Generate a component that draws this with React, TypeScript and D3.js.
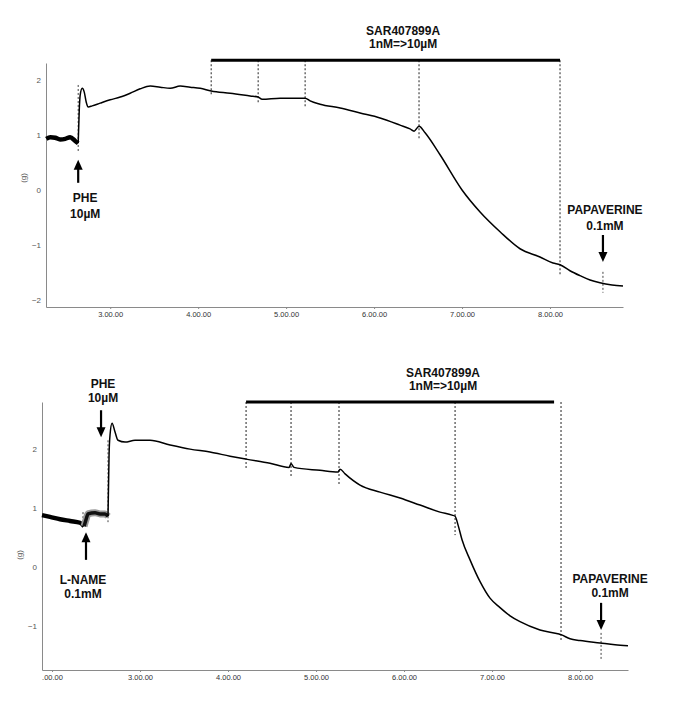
import React, { useEffect, useRef } from "react";
import * as d3 from "d3";

// ---- top recording (PHE, then SAR407899A, then papaverine) ----
const topBaseTime = [2.273, 2.32, 2.375, 2.43, 2.489, 2.545, 2.602, 2.636];
const topBaseForce = [0.93, 0.96, 0.95, 0.92, 0.93, 0.96, 0.89, 0.85];

const topTime = [2.636, 2.648, 2.659, 2.682, 2.705, 2.727, 2.75, 2.795, 2.886, 3.0, 3.114, 3.227, 3.341, 3.455, 3.568, 3.682, 3.795, 3.909, 4.023, 4.148, 4.364, 4.591, 4.682, 4.727, 4.932, 5.216, 5.273, 5.386, 5.614, 5.841, 6.068, 6.295, 6.409, 6.455, 6.511, 6.58, 6.75, 7.0, 7.205, 7.432, 7.659, 7.886, 8.034, 8.114, 8.227, 8.341, 8.455, 8.568, 8.705, 8.83];
const topForce = [0.85, 1.45, 1.73, 1.85, 1.78, 1.6, 1.51, 1.53, 1.58, 1.64, 1.69, 1.76, 1.84, 1.89, 1.87, 1.85, 1.89, 1.87, 1.85, 1.8, 1.76, 1.71, 1.69, 1.65, 1.67, 1.67, 1.62, 1.56, 1.49, 1.4, 1.31, 1.18, 1.11, 1.07, 1.16, 1.04, 0.64, 0, -0.4, -0.76, -1.07, -1.22, -1.33, -1.36, -1.47, -1.56, -1.64, -1.69, -1.73, -1.75];

const topSarTimes = [4.148, 4.682, 5.216, 6.511, 8.114];
const topSarEnds = [1.73, 1.58, 1.49, 0.91, -1.55];
const topTicks = [3, 4, 5, 6, 7, 8];
const topTickLabels = ["3.00.00", "4.00.00", "5.00.00", "6.00.00", "7.00.00", "8.00.00"];
const topYTicks = [-2, -1, 0, 1, 2];

// ---- bottom recording (L-NAME, PHE, SAR407899A, papaverine) ----
const bottomBaseTime = [1.886, 1.977, 2.091, 2.205, 2.318, 2.364];
const bottomBaseForce = [0.88, 0.85, 0.81, 0.78, 0.75, 0.69];

const lnameTime = [2.364, 2.386, 2.409, 2.489, 2.545, 2.602, 2.636];
const lnameForce = [0.69, 0.8, 0.9, 0.92, 0.9, 0.9, 0.86];

const bottomTime = [2.636, 2.648, 2.659, 2.682, 2.716, 2.75, 2.83, 2.943, 3.114, 3.341, 3.568, 3.795, 4.023, 4.205, 4.477, 4.693, 4.716, 4.75, 5.045, 5.25, 5.273, 5.33, 5.5, 5.727, 5.955, 6.182, 6.409, 6.545, 6.58, 6.614, 6.659, 6.75, 6.864, 6.977, 7.091, 7.205, 7.318, 7.545, 7.761, 7.784, 7.886, 8.0, 8.227, 8.398, 8.545];
const bottomForce = [0.86, 1.9, 2.24, 2.44, 2.29, 2.15, 2.12, 2.15, 2.15, 2.07, 2.0, 1.95, 1.88, 1.83, 1.76, 1.69, 1.75, 1.69, 1.64, 1.61, 1.66, 1.58, 1.39, 1.27, 1.17, 1.05, 0.93, 0.88, 0.86, 0.71, 0.46, 0.12, -0.25, -0.53, -0.69, -0.83, -0.93, -1.07, -1.14, -1.15, -1.22, -1.25, -1.29, -1.32, -1.34];

const bottomSarTimes = [4.205, 4.716, 5.261, 6.58, 7.784];
const bottomSarEnds = [1.68, 1.51, 1.39, 0.54, -1.24];
const bottomTicks = [2, 3, 4, 5, 6, 7, 8];
const bottomTickLabels = [".00.00", "3.00.00", "4.00.00", "5.00.00", "6.00.00", "7.00.00", "8.00.00"];
const bottomYTicks = [-1, 0, 1, 2];

const W = 685;
const H = 703;
const FONT = "'Liberation Sans', Arial, sans-serif";

const panels = [
  {
    xDomain: [2.27, 8.83], xRange: [46, 623],
    yDomain: [-2.13, 2.31], yRange: [307, 63],
    base: [topBaseTime, topBaseForce],
    noisy: null,
    trace: [topTime, topForce],
    xTicks: topTicks, xLabels: topTickLabels, yTicks: topYTicks,
    sarTimes: topSarTimes, sarEnds: topSarEnds,
    bar: { from: 4.148, to: 8.114, v: 2.36, titleT: 6.33 },
    dotted: [
      { t: 2.636, v0: 1.91, v1: 0.69 },
      { t: 8.602, v0: -1.49, v1: -1.87 },
    ],
    arrows: [
      { t: 2.636, tail: 0.13, tip: 0.55, lines: ["PHE", "10\u00b5M"], dx: 7, dy: [19, 35] },
      { t: 8.602, tail: -0.82, tip: -1.31, lines: ["PAPAVERINE", "0.1mM"], dx: 2, dy: [-21, -5] },
    ],
  },
  {
    xDomain: [1.886, 8.545], xRange: [42, 628],
    yDomain: [-1.75, 2.8], yRange: [670, 402],
    base: [bottomBaseTime, bottomBaseForce],
    noisy: [lnameTime, lnameForce],
    trace: [bottomTime, bottomForce],
    xTicks: bottomTicks, xLabels: bottomTickLabels, yTicks: bottomYTicks,
    sarTimes: bottomSarTimes, sarEnds: bottomSarEnds,
    bar: { from: 4.205, to: 7.705, v: 2.8, titleT: 6.443 },
    dotted: [
      { t: 2.636, v0: 2.15, v1: 0.76 },
      { t: 2.352, v0: 0.93, v1: 0.66 },
      { t: 8.239, v0: -1.12, v1: -1.58 },
    ],
    arrows: [
      { t: 2.557, tail: 2.66, tip: 2.2, lines: ["PHE", "10\u00b5M"], dx: 2, dy: [-22, -8] },
      { t: 2.386, tail: 0.12, tip: 0.59, lines: ["L-NAME", "0.1mM"], dx: -3, dy: [24, 38] },
      { t: 8.239, tail: -0.61, tip: -1.07, lines: ["PAPAVERINE", "0.1mM"], dx: 9, dy: [-20, -6] },
    ],
  },
];

export default function App() {
  const svgRef = useRef<SVGSVGElement>(null);

  useEffect(() => {
    const svg = d3.select(svgRef.current);
    svg.selectAll("*").remove();

    panels.forEach((p) => {
      const x = d3.scaleLinear().domain(p.xDomain).range(p.xRange);
      const y = d3.scaleLinear().domain(p.yDomain).range(p.yRange);
      const g = svg.append("g");

      // axes
      const xAxis = g
        .append("g")
        .attr("transform", `translate(0,${p.yRange[0]})`)
        .call(
          d3.axisBottom(x)
            .tickValues(p.xTicks)
            .tickFormat((d, i) => p.xLabels[i])
            .tickSize(2)
            .tickSizeOuter(0)
            .tickPadding(3)
        );
      xAxis.select(".domain").attr("stroke", "#8a8a8a");
      xAxis.selectAll(".tick line").attr("stroke", "#8a8a8a");
      xAxis.selectAll("text").attr("font-family", FONT).attr("font-size", 7.5).attr("fill", "#333");

      const yAxis = g
        .append("g")
        .attr("transform", `translate(${p.xRange[0]},0)`)
        .call(
          d3.axisLeft(y)
            .tickValues(p.yTicks)
            .tickFormat(d3.format("d"))
            .tickSize(0)
            .tickSizeOuter(0)
            .tickPadding(5)
        );
      yAxis.select(".domain").attr("stroke", "#8a8a8a");
      yAxis.selectAll("text").attr("font-family", FONT).attr("font-size", 8).attr("fill", "#555");

      g.append("text")
        .attr("transform", `translate(${p.xRange[0] - 20},${y(0) - 12}) rotate(-90)`)
        .attr("text-anchor", "middle")
        .attr("font-family", FONT)
        .attr("font-size", 8)
        .attr("fill", "#555")
        .text("(g)");

      const drawTrace = (ts: number[], vs: number[], width: number, color: string) => {
        const pts = ts.map((t, i) => [x(t), y(vs[i])] as [number, number]);
        g.append("path")
          .attr("d", d3.line().curve(d3.curveMonotoneX)(pts))
          .attr("fill", "none")
          .attr("stroke", color)
          .attr("stroke-width", width)
          .attr("stroke-linejoin", "round");
      };

      // dotted event lines
      const dash = (t: number, v0: number, v1: number, color = "#222") => {
        g.append("line")
          .attr("x1", x(t)).attr("x2", x(t))
          .attr("y1", y(v0)).attr("y2", y(v1))
          .attr("stroke", color)
          .attr("stroke-width", 1)
          .attr("stroke-dasharray", "2,2");
      };
      p.sarTimes.forEach((t, i) => dash(t, p.bar.v, p.sarEnds[i]));
      p.dotted.forEach((d) => dash(d.t, d.v0, d.v1, "#444"));

      drawTrace(p.base[0], p.base[1], 4.5, "#000");
      if (p.noisy) {
        drawTrace(p.noisy[0], p.noisy[1], 7, "#9a9a9a");
        drawTrace(p.noisy[0], p.noisy[1], 3.5, "#111");
      }
      drawTrace(p.trace[0], p.trace[1], 1.5, "#000");

      // SAR bar and title
      g.append("line")
        .attr("x1", x(p.bar.from)).attr("x2", x(p.bar.to))
        .attr("y1", y(p.bar.v)).attr("y2", y(p.bar.v))
        .attr("stroke", "#000")
        .attr("stroke-width", 3);
      ["SAR407899A", "1nM=>10\u00b5M"].forEach((s, i) => {
        g.append("text")
          .attr("x", x(p.bar.titleT))
          .attr("y", y(p.bar.v) - 25 + i * 13)
          .attr("text-anchor", "middle")
          .attr("font-family", FONT)
          .attr("font-weight", "bold")
          .attr("font-size", 12)
          .attr("fill", "#111")
          .text(s);
      });

      // arrows with labels
      p.arrows.forEach((a) => {
        const ax = x(a.t);
        const y0 = y(a.tail);
        const y1 = y(a.tip);
        const dir = y1 > y0 ? 1 : -1;
        g.append("line")
          .attr("x1", ax).attr("x2", ax)
          .attr("y1", y0).attr("y2", y1 - dir * 8)
          .attr("stroke", "#000")
          .attr("stroke-width", 2.2);
        g.append("path")
          .attr("d", `M${ax - 4.5},${y1 - dir * 10}L${ax + 4.5},${y1 - dir * 10}L${ax},${y1}Z`)
          .attr("fill", "#000");
        a.lines.forEach((s, i) => {
          g.append("text")
            .attr("x", ax + a.dx)
            .attr("y", y0 + a.dy[i])
            .attr("text-anchor", "middle")
            .attr("font-family", FONT)
            .attr("font-weight", "bold")
            .attr("font-size", 12)
            .attr("fill", "#111")
            .text(s);
        });
      });
    });
  }, []);

  return (
    <svg
      ref={svgRef}
      width={W}
      height={H}
      style={{ position: "absolute", left: 0, top: 0, background: "#fff" }}
    />
  );
}
